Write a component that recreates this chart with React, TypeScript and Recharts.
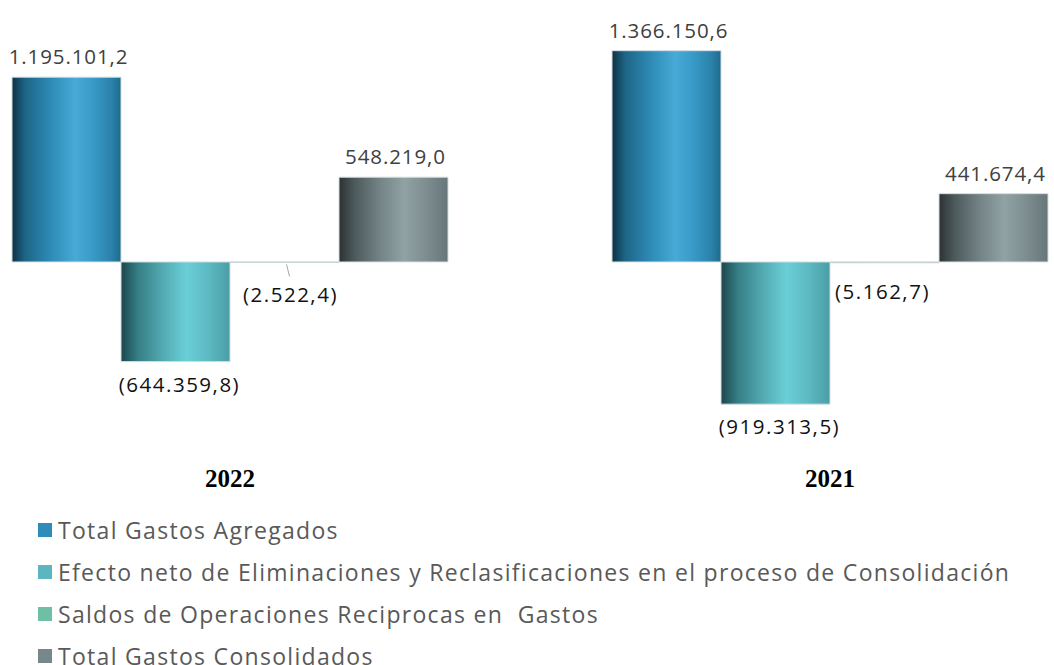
import { BarChart, Bar, XAxis, YAxis, LabelList } from 'recharts';

const years = ['2022', '2021'];
const totalAgregados = [1195101.2, 1366150.6];
const efectoNeto = [-644359.8, -919313.5];
const saldosReciprocas = [-2522.4, -5162.7];
const totalConsolidados = [548219.0, 441674.4];

const seriesNames = [
  'Total Gastos Agregados',
  'Efecto neto de Eliminaciones y Reclasificaciones en el proceso de Consolidación',
  'Saldos de Operaciones Reciprocas en  Gastos',
  'Total Gastos Consolidados',
];
const legendColors = ['#2e8db8', '#5bb6c2', '#6fbfa4', '#77888c'];

const data = years.map((year, i) => ({
  year,
  agregados: totalAgregados[i],
  efecto: efectoNeto[i],
  saldos: saldosReciprocas[i],
  consolidados: totalConsolidados[i],
}));

const FONT = '"Open Sans", "DejaVu Sans", sans-serif';

function formatNumber(v: number) {
  const abs = Math.abs(v);
  const [int, dec] = abs.toFixed(1).split('.');
  const withDots = int.replace(/\B(?=(\d{3})+(?!\d))/g, '.');
  const s = `${withDots},${dec}`;
  return v < 0 ? `(${s})` : s;
}

const posStyle = { letterSpacing: '0.9px' };
const negStyle = { letterSpacing: '1.5px' };

const renderValueLabel = (props: any) => {
  const { x, y, width, height, value } = props;
  const top = Math.min(y, y + height);
  const bottom = Math.max(y, y + height);
  const cx = x + width / 2;
  if (value >= 0) {
    return (
      <text x={cx + 2} y={top - 13} textAnchor="middle" fill="#404040" fontSize={20.5} fontFamily={FONT} style={posStyle}>
        {formatNumber(value)}
      </text>
    );
  }
  return (
    <text x={cx + 4} y={bottom + 30} textAnchor="middle" fill="#111111" fontSize={20.5} fontFamily={FONT} style={negStyle}>
      {formatNumber(value)}
    </text>
  );
};

// tiny bar: label pushed down, with a small leader line on the first group
const renderSmallLabel = (props: any) => {
  const { x, y, width, height, value, index } = props;
  const bottom = Math.max(y, y + height);
  const cx = x + width / 2;
  const shift = index === 0 ? 6 : -2;
  const dy = index === 0 ? 40 : 36;
  return (
    <g>
      {index === 0 && (
        <line x1={cx + 2} y1={bottom + 2} x2={cx + 5} y2={bottom + 14} stroke="#a6a6a6" strokeWidth={1} />
      )}
      <text x={cx + shift} y={bottom + dy} textAnchor="middle" fill="#111111" fontSize={20.5} fontFamily={FONT} style={negStyle}>
        {formatNumber(value)}
      </text>
    </g>
  );
};

const YearTick = (props: any) => {
  const { x, y, payload } = props;
  return (
    <text
      x={x}
      y={y + 24}
      textAnchor="middle"
      fill="#000"
      fontSize={25}
      fontWeight="bold"
      fontFamily='"Liberation Serif", "Times New Roman", serif'
    >
      {payload.value}
    </text>
  );
};

export default function App() {
  return (
    <div
      style={{
        position: 'absolute',
        left: 0,
        top: 0,
        width: 1054,
        height: 665,
        overflow: 'hidden',
        background: '#ffffff',
      }}
    >
      <div style={{ position: 'absolute', left: -70, top: 0 }}>
        <BarChart
          width={1200}
          height={500}
          data={data}
          margin={{ top: 30, right: 0, left: 0, bottom: 7 }}
          barCategoryGap={82}
          barGap={0}
        >
          <defs>
            <linearGradient id="gAgregados" x1="0" y1="0" x2="1" y2="0">
              <stop offset="0%" stopColor="#0e3143" />
              <stop offset="12%" stopColor="#1d6587" />
              <stop offset="35%" stopColor="#2d8ab4" />
              <stop offset="58%" stopColor="#47abd6" />
              <stop offset="75%" stopColor="#3899c6" />
              <stop offset="92%" stopColor="#2a80a8" />
              <stop offset="100%" stopColor="#1f6a8d" />
            </linearGradient>
            <linearGradient id="gEfecto" x1="0" y1="0" x2="1" y2="0">
              <stop offset="0%" stopColor="#1c454b" />
              <stop offset="15%" stopColor="#357d84" />
              <stop offset="38%" stopColor="#52a9b1" />
              <stop offset="60%" stopColor="#6bcfd8" />
              <stop offset="80%" stopColor="#5db9c2" />
              <stop offset="100%" stopColor="#4a9ea6" />
            </linearGradient>
            <linearGradient id="gSaldos" x1="0" y1="0" x2="1" y2="0">
              <stop offset="0%" stopColor="#9fb5ae" />
              <stop offset="60%" stopColor="#c9ddd5" />
              <stop offset="100%" stopColor="#a9c3ba" />
            </linearGradient>
            <linearGradient id="gConsolidados" x1="0" y1="0" x2="1" y2="0">
              <stop offset="0%" stopColor="#2c3234" />
              <stop offset="15%" stopColor="#4e5b5d" />
              <stop offset="38%" stopColor="#748487" />
              <stop offset="60%" stopColor="#91a2a5" />
              <stop offset="80%" stopColor="#7d8d90" />
              <stop offset="100%" stopColor="#66767a" />
            </linearGradient>
          </defs>
          <XAxis
            dataKey="year"
            axisLine={false}
            tickLine={false}
            tickSize={0}
            tickMargin={0}
            height={30}
            tick={<YearTick />}
            interval={0}
          />
          <YAxis hide domain={[-1300000, 1500000]} />
          <Bar dataKey="agregados" fill="url(#gAgregados)" stroke="#d3dde0" strokeWidth={1} isAnimationActive={false}>
            <LabelList dataKey="agregados" content={renderValueLabel} />
          </Bar>
          <Bar dataKey="efecto" fill="url(#gEfecto)" stroke="#d3dde0" strokeWidth={1} isAnimationActive={false}>
            <LabelList dataKey="efecto" content={renderValueLabel} />
          </Bar>
          <Bar dataKey="saldos" fill="url(#gSaldos)" stroke="#c8d3d3" strokeWidth={1} isAnimationActive={false}>
            <LabelList dataKey="saldos" content={renderSmallLabel} />
          </Bar>
          <Bar dataKey="consolidados" fill="url(#gConsolidados)" stroke="#d3dde0" strokeWidth={1} isAnimationActive={false}>
            <LabelList dataKey="consolidados" content={renderValueLabel} />
          </Bar>
        </BarChart>
      </div>
      <div style={{ position: 'absolute', left: 38, top: 509 }}>
        {seriesNames.map((name, i) => (
          <div
            key={name}
            style={{
              display: 'flex',
              alignItems: 'center',
              height: 42,
              fontFamily: FONT,
              fontSize: 23,
              letterSpacing: '1.3px',
              color: '#595959',
              whiteSpace: 'pre',
            }}
          >
            <span
              style={{
                display: 'inline-block',
                width: 14,
                height: 14,
                background: legendColors[i],
                marginRight: 6,
              }}
            />
            {name}
          </div>
        ))}
      </div>
    </div>
  );
}
